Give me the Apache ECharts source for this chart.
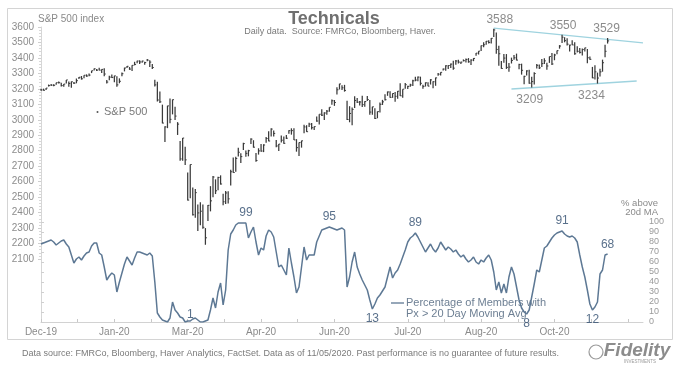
<!DOCTYPE html>
<html><head><meta charset="utf-8">
<script src="https://cdn.jsdelivr.net/npm/echarts@6/dist/echarts.min.js"></script>
<style>html,body{margin:0;padding:0;background:#fff}#c{width:680px;height:371px}</style>
</head><body><div id="c"></div>
<script>
// x-axis tick labels (one every 29 trading days, starting 17-Dec-2019)
const tickLabels = ['Dec-19','Jan-20','Mar-20','Apr-20','Jun-20','Jul-20','Aug-20','Oct-20'];

// S&P 500 daily bars, 17-Dec-2019 .. 05-Nov-2020 (trading days)
const spClose = [
3193,3191,3205,3221,3224,3223,3240,3240,3221,3231,
3258,3235,3246,3237,3253,3275,3265,3288,3283,3289,3317,3330,3321,3321,3326,3296,3244,3276,3273,3284,3226,
3249,3298,3335,3346,3328,3352,3358,3380,3374,3380,3370,3386,3373,3338,3226,3128,3116,2979,2954,
3090,3003,3130,3024,2972,2747,2882,2741,2481,2711,2386,2529,2398,2409,2305,2237,2447,2476,2630,2541,2627,2585,
2470,2527,2489,2664,2659,2750,2790,2762,2846,2783,2800,2875,2823,2737,2799,2798,2837,2879,2863,2940,2912,
2831,2843,2868,2848,2881,2930,2930,2870,2820,2853,2864,2954,2923,2972,2949,2956,2992,3036,3030,3044,
3056,3081,3123,3112,3194,3232,3207,3190,3002,3041,3067,3125,3114,3115,3098,3118,3131,3050,3084,3009,3053,3100,
3116,3130,3180,3145,3170,3152,3185,3155,3198,3227,3216,3225,3252,3257,3276,3236,3216,3239,3218,3258,3246,3271,
3295,3307,3328,3349,3351,3360,3334,3380,3373,3373,3382,3390,3375,3386,3397,3431,3444,3479,3485,3508,3500,
3527,3581,3455,3427,3332,3399,3339,3341,3384,3401,3386,3357,3320,3281,3316,3237,3247,3299,3352,3336,3363,
3381,3348,3409,3361,3419,3447,3477,3534,3512,3489,3483,3484,3427,3443,3436,3454,3465,3401,3391,3271,3310,3270,
3310,3369,3443,3510];
const spHigh = [
3198,3199,3206,3226,3227,3226,3240,3248,3240,3231,
3258,3247,3247,3245,3267,3276,3283,3288,3294,3299,3317,3330,3329,3337,3327,3334,3258,3285,3293,3285,3282,
3268,3306,3337,3348,3341,3353,3375,3381,3385,3381,3375,3393,3385,3360,3259,3246,3183,3098,2959,
3091,3137,3131,3084,2985,2863,2883,2825,2660,2711,2562,2553,2453,2467,2453,2300,2449,2571,2637,2615,2631,2641,
2522,2539,2538,2677,2756,2761,2819,2783,2851,2801,2806,2880,2868,2785,2816,2844,2842,2888,2926,2945,2931,
2869,2844,2898,2892,2901,2932,2945,2945,2875,2853,2865,2968,2965,2981,2979,2957,3022,3036,3068,3049,
3063,3081,3131,3128,3211,3233,3223,3226,3123,3088,3079,3153,3141,3121,3156,3120,3154,3128,3084,3074,3054,3112,
3129,3165,3183,3184,3171,3180,3186,3236,3198,3238,3220,3233,3259,3278,3280,3279,3227,3242,3243,3263,3250,3273,
3303,3307,3331,3352,3353,3364,3381,3387,3388,3376,3388,3396,3399,3391,3399,3432,3444,3481,3502,3510,3514,
3529,3588,3565,3479,3380,3425,3425,3368,3402,3419,3428,3362,3363,3285,3321,3323,3279,3307,3361,3357,3393,
3398,3369,3409,3432,3427,3448,3483,3550,3534,3528,3486,3515,3501,3476,3465,3461,3466,3457,3410,3342,3352,3305,
3330,3389,3486,3529];
const spLow = [
3191,3191,3192,3217,3222,3221,3227,3235,3216,3213,
3235,3214,3207,3232,3236,3263,3260,3268,3278,3281,3302,3320,3316,3320,3302,3281,3235,3256,3271,3242,3214,
3236,3281,3313,3335,3323,3315,3352,3366,3360,3370,3356,3379,3341,3329,3215,3119,3109,2977,2856,
2946,2977,3035,2999,2902,2735,2735,2707,2478,2493,2381,2367,2281,2319,2295,2192,2345,2408,2500,2520,2545,2581,
2448,2456,2459,2575,2657,2664,2763,2721,2805,2761,2764,2843,2820,2728,2775,2794,2791,2852,2861,2892,2892,
2822,2798,2853,2845,2876,2909,2904,2870,2794,2766,2820,2913,2922,2953,2938,2934,2988,2970,3024,2999,
3032,3052,3098,3090,3163,3196,3193,3182,2999,2984,2965,3076,3109,3093,3083,3084,3122,3033,3032,3005,3010,3047,
3096,3124,3155,3142,3142,3116,3136,3154,3143,3201,3199,3213,3218,3249,3249,3222,3201,3215,3217,3228,3204,3220,
3284,3286,3318,3317,3329,3335,3323,3356,3364,3361,3380,3370,3369,3354,3379,3414,3422,3445,3469,3486,3494,
3493,3535,3427,3349,3330,3369,3329,3310,3364,3389,3384,3327,3292,3230,3286,3233,3209,3228,3332,3328,3341,
3361,3324,3368,3354,3385,3424,3460,3496,3501,3480,3442,3483,3420,3435,3428,3415,3441,3365,3389,3269,3260,3234,
3280,3311,3405,3493];

// Percentage of members with price > 20-day moving average
const pctAbove = [
78,79,80,81,82,80,77,79,81,82,
78,75,67,59,63,65,62,66,69,70,
76,79,79,69,67,55,42,46,49,47,
30,40,49,58,65,61,57,64,70,70,
69,68,67,69,66,40,9,5,2,1,
0,4,20,12,9,5,4,0,1,1,
3,4,2,0,0,1,2,12,24,14,
30,39,17,32,72,88,92,97,99,99,
99,99,84,90,95,80,67,74,72,86,
92,90,85,70,55,57,52,47,74,59,
45,29,35,55,75,62,67,67,67,80,
86,92,93,94,95,94,93,92,93,94,
92,35,45,60,70,55,48,42,37,32,
22,13,18,24,27,31,35,45,55,44,
49,52,58,65,72,80,84,86,89,85,
80,75,70,74,78,73,70,74,80,76,
72,75,73,70,72,68,65,67,63,60,
62,65,60,58,62,60,64,67,62,50,
32,40,29,38,29,45,55,48,35,22,
14,10,8,12,25,38,52,50,62,74,
76,80,84,87,89,90,91,88,86,85,
86,84,80,67,55,45,32,18,12,15,
20,48,52,67,68];

// annotations
const spMarks = [
  {i:179, v:3588, pos:'top', dx:6}, {i:206, v:3550, pos:'top', dx:1}, {i:224, v:3529, pos:'top', dx:-1},
  {i:194, v:3209, pos:'bottom', dx:-2}, {i:220, v:3234, pos:'bottom', dx:-6}];
const pctMarks = [
  {i:59, t:'1', pos:'top', d:0}, {i:81, t:'99', pos:'top', d:4}, {i:114, t:'95', pos:'top', d:4},
  {i:131, t:'13', pos:'bottom', d:3}, {i:148, t:'89', pos:'top', d:4}, {i:192, t:'8', pos:'bottom', d:3},
  {i:206, t:'91', pos:'top', d:4}, {i:218, t:'12', pos:'bottom', d:3}, {i:224, t:'68', pos:'top', d:3}];
// trend channel lines (index, S&P level)
const upperTrend = [[179, 3593], [238, 3497]];
const lowerTrend = [[186, 3199], [235.5, 3251]];

const FONT = "'Liberation Sans', Arial, sans-serif";
const X_MAX = 238, X_INT = 14.5;

const chart = echarts.init(document.getElementById('c'), null, {renderer:'canvas'});

function xFmt(v){
  const k = v / 29;
  if (Math.abs(k - Math.round(k)) < 1e-6) { return tickLabels[Math.round(k)] || ''; }
  return '';
}

const option = {
  animation: false,
  backgroundColor: '#ffffff',
  textStyle: {fontFamily: FONT},
  grid: [
    {left: 41, right: 37, top: 27, height: 232},
    {left: 41, right: 37, top: 222, height: 100}
  ],
  xAxis: [
    {gridIndex: 0, type: 'value', min: 0, max: X_MAX, interval: X_INT, show: false},
    {gridIndex: 1, type: 'value', min: 0, max: X_MAX, interval: X_INT,
     axisLine: {show: true, lineStyle: {color: '#d2d2d2', width: 1}},
     axisTick: {show: true, inside: true, length: 3, lineStyle: {color: '#c8c8c8'}},
     splitLine: {show: false},
     axisLabel: {formatter: xFmt, color: '#8a8a8a', fontSize: 10, margin: 5, fontFamily: FONT, showMaxLabel: false}}
  ],
  yAxis: [
    {gridIndex: 0, type: 'value', min: 2100, max: 3600, interval: 100, position: 'left',
     axisLine: {show: true, lineStyle: {color: '#d6d6d6'}},
     axisTick: {show: true, length: 3, lineStyle: {color: '#cfcfcf'}},
     minorTick: {show: true, splitNumber: 5, length: 2, lineStyle: {color: '#d8d8d8'}},
     splitLine: {show: false},
     axisLabel: {color: '#8c8c8c', fontSize: 10, margin: 7, fontFamily: FONT, formatter: v => String(v)}},
    {gridIndex: 1, type: 'value', min: 0, max: 100, interval: 10, position: 'right',
     axisLine: {show: true, lineStyle: {color: '#d6d6d6'}},
     axisTick: {show: true, length: 3, lineStyle: {color: '#cfcfcf'}},
     splitLine: {show: false},
     axisLabel: {color: '#9a9a9a', fontSize: 9, margin: 6, fontFamily: FONT, formatter: v => String(v)}}
  ],
  series: [
    {
      type: 'custom', xAxisIndex: 0, yAxisIndex: 0, clip: false,
      data: spClose.map((c, i) => [i, spHigh[i], spLow[i], c]),
      encode: {x: 0, y: [1, 2, 3]},
      renderItem: function (params, api) {
        const x = api.value(0);
        const hi = api.coord([x, api.value(1)]);
        const lo = api.coord([x, api.value(2)]);
        const cl = api.coord([x, api.value(3)]);
        let y1 = hi[1], y2 = lo[1];
        if (y2 - y1 < 2) { const m = (y1 + y2) / 2; y1 = m - 1; y2 = m + 1; }
        return {type: 'group', children: [
          {type: 'line', shape: {x1: hi[0], y1: y1, x2: hi[0], y2: y2}, style: {stroke: '#3a3a3a', lineWidth: 1.25}},
          {type: 'line', shape: {x1: cl[0], y1: cl[1], x2: cl[0] + 1.5, y2: cl[1]}, style: {stroke: '#3a3a3a', lineWidth: 1}}
        ]};
      }
    },
    {type: 'line', xAxisIndex: 0, yAxisIndex: 0, data: upperTrend, showSymbol: false, symbol: 'none',
     lineStyle: {color: '#9fd3df', width: 1.3}, z: 1},
    {type: 'line', xAxisIndex: 0, yAxisIndex: 0, data: lowerTrend, showSymbol: false, symbol: 'none',
     lineStyle: {color: '#9fd3df', width: 1.3}, z: 1},
    {type: 'scatter', xAxisIndex: 0, yAxisIndex: 0, symbolSize: 1, itemStyle: {color: 'rgba(0,0,0,0)'},
     data: spMarks.map(m => ({value: [m.i, m.v], label: {show: true, position: m.pos, distance: m.pos === 'top' ? 3 : 6,
       offset: [m.dx, 0], formatter: String(m.v), color: '#6e6e6e', fontSize: 12, fontFamily: FONT}})), z: 5},
    {type: 'line', xAxisIndex: 1, yAxisIndex: 1, data: pctAbove.map((v, i) => [i, v]),
     showSymbol: false, symbol: 'none', lineStyle: {color: '#5d7894', width: 1.5}, z: 3},
    {type: 'scatter', xAxisIndex: 1, yAxisIndex: 1, symbolSize: 1, itemStyle: {color: 'rgba(0,0,0,0)'},
     data: pctMarks.map(m => ({value: [m.i, pctAbove[m.i]], label: {show: true, position: m.pos, distance: m.d,
       formatter: m.t, color: '#2f4c6e', fontSize: 12, fontFamily: FONT}})), z: 6}
  ],
  graphic: [
    {type: 'rect', shape: {x: 7.5, y: 8.5, width: 665, height: 331}, style: {fill: 'none', stroke: '#d4d4d4', lineWidth: 1}, silent: true, z: -1},
    {type: 'text', x: 334, y: 19, style: {text: 'Technicals', font: "bold 18px " + FONT, fill: '#707070', textAlign: 'center', textVerticalAlign: 'middle'}},
    {type: 'text', x: 340, y: 32, style: {text: 'Daily data.  Source: FMRCo, Bloomberg, Haver.', font: "9px " + FONT, fill: '#7a7a7a', textAlign: 'center', textVerticalAlign: 'middle'}},
    {type: 'text', x: 38, y: 19, style: {text: 'S&P 500 index', font: "10px " + FONT, fill: '#8a8a8a', textAlign: 'left', textVerticalAlign: 'middle'}},
    {type: 'circle', shape: {cx: 97.5, cy: 112, r: 1}, style: {fill: '#555'}},
    {type: 'text', x: 104, y: 112, style: {text: 'S&P 500', font: "11px " + FONT, fill: '#7a7a7a', textAlign: 'left', textVerticalAlign: 'middle'}},
    {type: 'line', shape: {x1: 391, y1: 303, x2: 404, y2: 303}, style: {stroke: '#5d7894', lineWidth: 1.3}},
    {type: 'text', x: 406, y: 303, style: {text: 'Percentage of Members with', font: "11px " + FONT, fill: '#6d7f93', textAlign: 'left', textVerticalAlign: 'middle'}},
    {type: 'text', x: 406, y: 314, style: {text: 'Px > 20 Day Moving Avg', font: "11px " + FONT, fill: '#6d7f93', textAlign: 'left', textVerticalAlign: 'middle'}},
    {type: 'text', x: 658, y: 203, style: {text: '% above', font: "9.5px " + FONT, fill: '#8a8a8a', textAlign: 'right', textVerticalAlign: 'middle'}},
    {type: 'text', x: 658, y: 212, style: {text: '20d MA', font: "9.5px " + FONT, fill: '#8a8a8a', textAlign: 'right', textVerticalAlign: 'middle'}},
    {type: 'text', x: 22, y: 354, style: {text: 'Data source: FMRCo, Bloomberg, Haver Analytics, FactSet. Data as of 11/05/2020. Past performance is no guarantee of future results.', font: "9px 'Liberation Sans Narrow', " + FONT, fill: '#7a7a7a', textAlign: 'left', textVerticalAlign: 'middle'}},
    {type: 'circle', shape: {cx: 596, cy: 352, r: 7}, style: {fill: 'none', stroke: '#9a9a9a', lineWidth: 1.2}},
    {type: 'text', x: 637, y: 351, style: {text: 'Fidelity', font: "italic bold 19px " + FONT, fill: '#8c8c8c', textAlign: 'center', textVerticalAlign: 'middle'}},
    {type: 'text', x: 640, y: 362, style: {text: 'INVESTMENTS', font: "4.5px " + FONT, fill: '#9a9a9a', textAlign: 'center', textVerticalAlign: 'middle'}}
  ]
};
chart.setOption(option);
</script>
</body></html>
